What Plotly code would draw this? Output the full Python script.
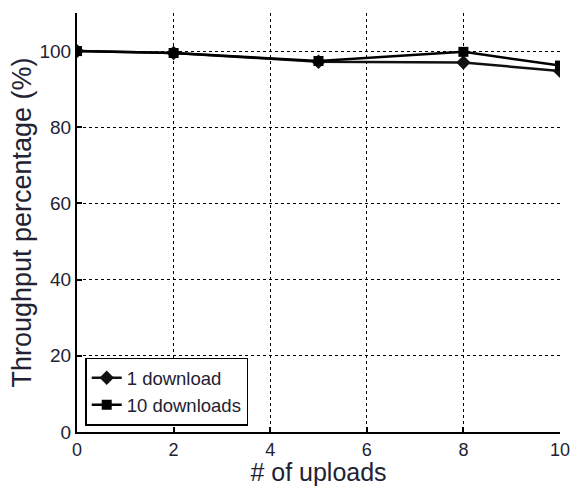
import plotly.graph_objects as go

uploads = [0, 2, 5, 8, 10]
one_download = [100, 99.5, 97.2, 97.0, 94.8]
ten_downloads = [100, 99.5, 97.4, 99.8, 96.2]
x_ticks = [0, 2, 4, 6, 8, 10]
y_ticks = [0, 20, 40, 60, 80, 100]

fig = go.Figure()
fig.add_trace(go.Scatter(x=uploads, y=one_download, mode="lines+markers", name="1 download",
                         line=dict(color="#111111", width=2.5),
                         marker=dict(symbol="diamond", size=11, color="#111111")))
fig.add_trace(go.Scatter(x=uploads, y=ten_downloads, mode="lines+markers", name="10 downloads",
                         line=dict(color="#000000", width=2.5),
                         marker=dict(symbol="square", size=10, color="#000000")))

font_family = "Liberation Sans, Arial, sans-serif"
fig.update_layout(
    width=573, height=486,
    margin=dict(l=77, r=13, t=13, b=54, autoexpand=False),
    paper_bgcolor="white", plot_bgcolor="white",
    font=dict(family=font_family, color="#222233"),
    showlegend=True,
    legend=dict(x=0.017, y=0.015, xanchor="left", yanchor="bottom",
                bgcolor="white", bordercolor="black", borderwidth=1.5,
                font=dict(size=18.5, color="#222233"),
                tracegroupgap=0, itemwidth=30),
    xaxis=dict(range=[0, 10], tickvals=x_ticks, showline=True, linecolor="black", linewidth=2,
               ticks="inside", ticklen=5, tickcolor="black", tickwidth=1.5,
               showgrid=True, gridcolor="black", griddash="dot", gridwidth=1,
               zeroline=False, tickfont=dict(size=18), automargin=False,
               title=dict(text="# of uploads", font=dict(size=25), standoff=0)),
    yaxis=dict(range=[0, 110], tickvals=y_ticks, showline=True, linecolor="black", linewidth=2,
               ticks="inside", ticklen=5, tickcolor="black", tickwidth=1.5,
               showgrid=True, gridcolor="black", griddash="dot", gridwidth=1,
               zeroline=False, tickfont=dict(size=19), automargin=False,
               title=dict(text="Throughput percentage (%)", font=dict(size=27), standoff=0)),
)
fig.write_html("out.html")
